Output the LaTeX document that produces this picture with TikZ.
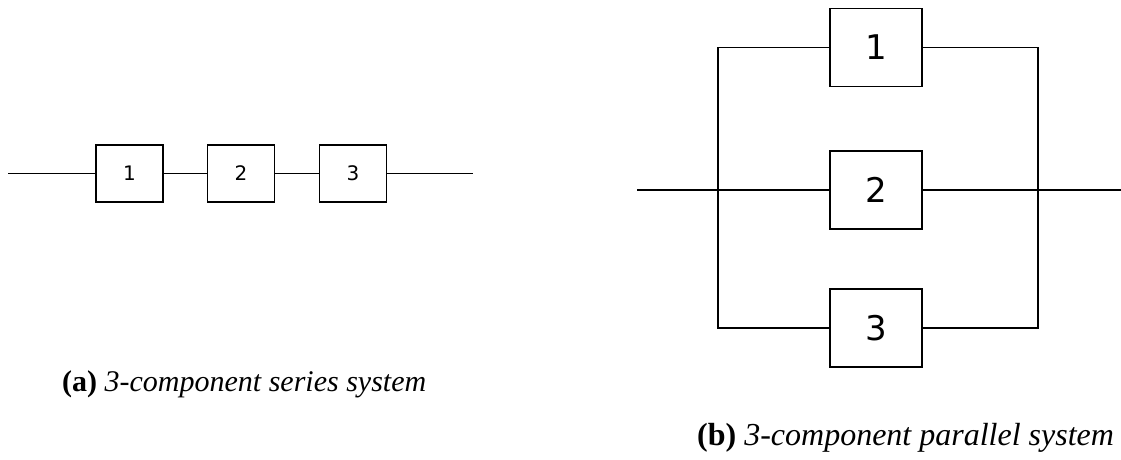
\documentclass[tikz,border=0pt]{standalone}
\usepackage{fontspec}
\setmainfont{Liberation Serif}
\newfontfamily\digitfont{DejaVu Sans}
\begin{document}
\begin{tikzpicture}[x=1pt,y=-1pt,
  sbox/.style={draw,line width=1.4pt,minimum width=67pt,minimum height=57pt,inner sep=0pt,font=\digitfont\fontsize{20}{20}\selectfont},
  pbox/.style={draw,line width=1.8pt,minimum width=92pt,minimum height=78pt,inner sep=0pt,font=\digitfont\fontsize{34}{34}\selectfont},
  sline/.style={line width=1.4pt},
  pline/.style={line width=1.8pt},
  captext/.style={anchor=base west,inner sep=0pt}]
\useasboundingbox (0,0) rectangle (1121,459);
% series system
\node[sbox] (s1) at (129.5,173.5) {1};
\node[sbox] (s2) at (241,173.5) {2};
\node[sbox] (s3) at (353,173.5) {3};
\coordinate (sin) at (8,173.5);
\coordinate (sout) at (473,173.5);
\draw[sline] (sin) -- (s1.west);
\draw[sline] (s1.east) -- (s2.west);
\draw[sline] (s2.east) -- (s3.west);
\draw[sline] (s3.east) -- (sout);
\node[captext,font=\fontsize{30}{34}\selectfont] (capa) at (62,391) {\textbf{(a)} \textit{3-component series system}};
% parallel system
\node[pbox] (p1) at (876,47.5) {1};
\node[pbox] (p2) at (876,190) {2};
\node[pbox] (p3) at (876,328) {3};
\coordinate (pin) at (637,190);
\coordinate (pout) at (1121,190);
\coordinate (lt) at (718,47.5);
\coordinate (lb) at (718,328);
\coordinate (rt) at (1038,47.5);
\coordinate (rb) at (1038,328);
\draw[pline] (p1.west) -- (lt) -- (lb) -- (p3.west);
\draw[pline] (pin) -- (p2.west);
\draw[pline] (p1.east) -- (rt) -- (rb) -- (p3.east);
\draw[pline] (p2.east) -- (pout);
\node[captext,font=\fontsize{32}{36}\selectfont] (capb) at (697,445) {\textbf{(b)} \textit{3-component parallel system}};
\end{tikzpicture}
\end{document}
